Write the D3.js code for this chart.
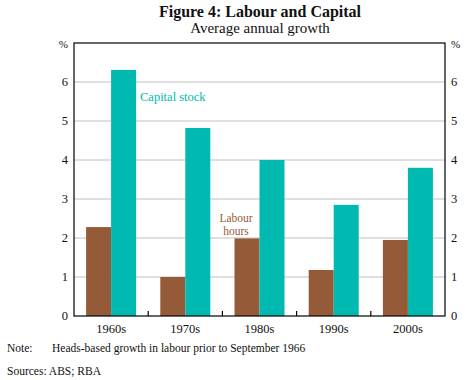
<!DOCTYPE html>
<html><head><meta charset="utf-8">
<script src="https://cdn.jsdelivr.net/npm/d3@7"></script>
<style>body{margin:0;background:#fff;} svg text, svg tspan{font-family:"Liberation Serif","Times New Roman",Times,serif !important;}</style>
</head><body>
<svg id="c" width="469" height="380" font-family="Liberation Serif, serif"></svg>
<script>
const categories = ["1960s","1970s","1980s","1990s","2000s"];
const labourHours = [2.28, 1.0, 1.99, 1.18, 1.95];
const capitalStock = [6.31, 4.82, 4.0, 2.85, 3.80];
const yTicks = [0,1,2,3,4,5,6];
const colors = {labour:"#955b38", capital:"#00b9b0"};

const svg = d3.select("#c");
const L=74, R=445, T=43, B=316;
const x = d3.scaleBand().domain(categories).range([L,R]);
const y = d3.scaleLinear().domain([0,7]).range([B,T]);
const bw = 25;
const FF = "Liberation Serif";

svg.append("text").attr("x",260).attr("y",17).attr("text-anchor","middle").attr("font-family",FF)
  .attr("font-size",16).attr("font-weight","bold").attr("fill","#111").text("Figure 4: Labour and Capital");
svg.append("text").attr("x",260).attr("y",33).attr("text-anchor","middle").attr("font-family",FF)
  .attr("font-size",15).attr("fill","#111").text("Average annual growth");

// gridlines
svg.append("g").selectAll("line").data(yTicks.filter(d=>d>0)).join("line")
  .attr("x1",L).attr("x2",R).attr("y1",d=>y(d)).attr("y2",d=>y(d))
  .attr("stroke","#c0c0c0").attr("stroke-width",1);

// bars
const g = svg.append("g");
g.selectAll("rect.l").data(categories).join("rect").attr("class","l")
  .attr("x",d=>x(d)+x.bandwidth()/2-bw).attr("width",bw)
  .attr("y",(d,i)=>y(labourHours[i])).attr("height",(d,i)=>B-y(labourHours[i]))
  .attr("fill",colors.labour);
g.selectAll("rect.c").data(categories).join("rect").attr("class","c")
  .attr("x",d=>x(d)+x.bandwidth()/2).attr("width",bw)
  .attr("y",(d,i)=>y(capitalStock[i])).attr("height",(d,i)=>B-y(capitalStock[i]))
  .attr("fill",colors.capital);

// frame
svg.append("rect").attr("x",L).attr("y",T).attr("width",R-L).attr("height",B-T)
  .attr("fill","none").attr("stroke","#000").attr("stroke-width",1.2);

// x ticks at category boundaries
svg.append("g").selectAll("line").data(categories.slice(1)).join("line")
  .attr("x1",d=>x(d)).attr("x2",d=>x(d)).attr("y1",B).attr("y2",B-5)
  .attr("stroke","#000").attr("stroke-width",1.2);

// x labels
svg.append("g").attr("font-family",FF).selectAll("text").data(categories).join("text")
  .attr("x",d=>x(d)+x.bandwidth()/2).attr("y",333).attr("text-anchor","middle")
  .attr("font-size",12.5).attr("fill","#111").text(d=>d);

// y labels
const yl = svg.append("g").attr("font-size",12.5).attr("fill","#111").attr("font-family",FF);
yl.selectAll("text.l").data(yTicks).join("text").attr("class","l")
  .attr("x",68).attr("y",d=>y(d)+4).attr("text-anchor","end").text(d=>d);
yl.selectAll("text.r").data(yTicks).join("text").attr("class","r")
  .attr("x",451).attr("y",d=>y(d)+4).attr("text-anchor","start").text(d=>d);
yl.append("text").attr("x",68).attr("y",y(7)+5).attr("text-anchor","end").attr("font-size",11).text("%");
yl.append("text").attr("x",451).attr("y",y(7)+5).attr("text-anchor","start").attr("font-size",11).text("%");

// series labels
svg.append("text").attr("x",140).attr("y",101).attr("font-family",FF).attr("font-size",12.5).attr("fill",colors.capital).text("Capital stock");
svg.append("text").attr("x",236).attr("y",222).attr("text-anchor","middle").attr("font-family",FF).attr("font-size",11.5).attr("fill",colors.labour).text("Labour");
svg.append("text").attr("x",236).attr("y",235).attr("text-anchor","middle").attr("font-family",FF).attr("font-size",11.5).attr("fill",colors.labour).text("hours");

// notes
const n = svg.append("g").attr("font-size",11.5).attr("fill","#111").attr("font-family",FF);
n.append("text").attr("x",7).attr("y",352).text("Note:");
n.append("text").attr("x",52).attr("y",352).text("Heads-based growth in labour prior to September 1966");
n.append("text").attr("x",7).attr("y",375).text("Sources:  ABS; RBA");
</script>
</body></html>
